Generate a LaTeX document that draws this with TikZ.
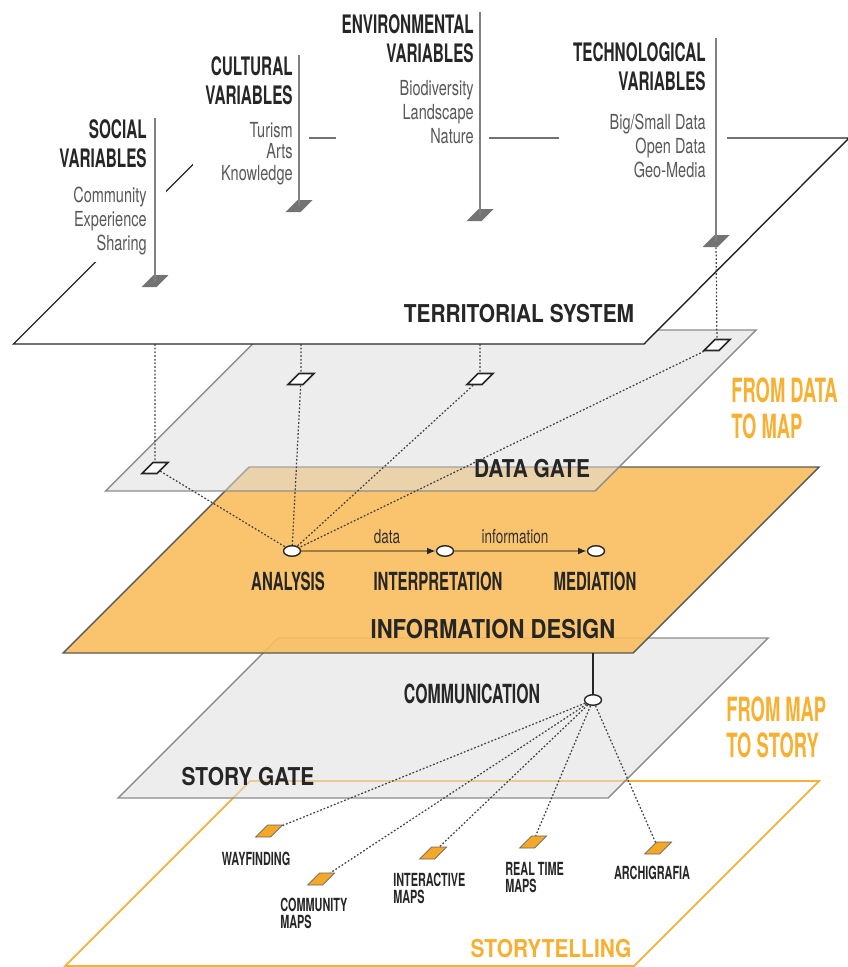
\documentclass[tikz,border=0pt]{standalone}
\usepackage{fontspec}
\setmainfont{TeX Gyre Heros}
\newfontfamily\narrowfont{TeX Gyre Heros}[FakeStretch=0.6]
\newfontfamily\tallfont{TeX Gyre Heros}[FakeStretch=0.55]
\newfontfamily\itemfont{TeX Gyre Heros}[FakeStretch=0.7]
\newfontfamily\planefont{TeX Gyre Heros}[FakeStretch=0.85]
\usetikzlibrary{shapes.geometric,arrows.meta}

\definecolor{infoorange}{RGB}{250,190,95}
\definecolor{lineorange}{RGB}{247,176,60}
\definecolor{textorange}{RGB}{248,176,50}
\definecolor{markorange}{RGB}{245,168,40}
\definecolor{gatefill}{RGB}{222,222,222}
\definecolor{gateline}{RGB}{140,140,140}
\definecolor{polegray}{RGB}{128,128,128}
\definecolor{arrowbrown}{RGB}{160,125,70}

\begin{document}
\begin{tikzpicture}[
    x=0.02cm, y=-0.02cm,
    plane/.style={line width=0.8pt, line join=miter},
    territory/.style={plane, draw=black!85, fill=white},
    gate/.style={plane, draw=gateline, fill=gatefill, fill opacity=0.55},
    infoplane/.style={plane, draw=black!65, fill=infoorange, fill opacity=0.9},
    storyplane/.style={plane, draw=lineorange, line width=1pt},
    mask/.style={fill=white},
    pole/.style={draw=polegray, line width=0.9pt},
    base/.style={rectangle, xslant=1, minimum width=0.3cm, minimum height=0.24cm, inner sep=0pt},
    footing/.style={base, fill=black!55},
    gatemark/.style={base, draw=black!85, line width=0.9pt, fill=white, minimum width=0.3cm, minimum height=0.22cm},
    mapmark/.style={base, draw=black!60, line width=0.4pt, fill=markorange},
    hub/.style={ellipse, draw=black!85, line width=0.8pt, fill=white, minimum width=0.34cm, minimum height=0.21cm, inner sep=0pt},
    link/.style={draw=black!75, line width=0.7pt, dash pattern=on 1pt off 1.1pt},
    flow/.style={draw=arrowbrown, line width=1.1pt, -{Latex[length=5pt,width=4pt,color=black!85]}},
    vartitle/.style={font=\narrowfont\bfseries\fontsize{14.5}{16.5}\selectfont, text=black!85, align=right, inner sep=0pt},
    varitem/.style={font=\itemfont\fontsize{11.8}{13.6}\selectfont, text=black!65, align=right, inner sep=0pt},
    planelabel/.style={font=\planefont\bfseries\fontsize{14}{16}\selectfont, text=black!85, inner sep=0pt},
    steplabel/.style={font=\narrowfont\bfseries\fontsize{14.2}{16}\selectfont, text=black!85, inner sep=0pt},
    flowlabel/.style={font=\itemfont\fontsize{11}{12}\selectfont, text=black!80, inner sep=0pt},
    sidelabel/.style={font=\tallfont\bfseries\fontsize{19}{20.4}\selectfont, text=textorange, align=left, inner sep=0pt},
    maplabel/.style={font=\narrowfont\bfseries\fontsize{10.3}{9.2}\selectfont, text=black!85, align=left, inner sep=0pt}
]
\useasboundingbox (0,0) rectangle (848,967);

% Layers, from the bottom up
\draw[storyplane] (65,966) -- (634,966) -- (819,781) -- (250,781) -- cycle;
\draw[gate] (118,798) -- (608,798) -- (768,638) -- (278,638) -- cycle;
\draw[infoplane] (63,653) -- (633,653) -- (819,467) -- (249,467) -- cycle;
\draw[gate] (105.5,491) -- (595,491) -- (756,330) -- (266.5,330) -- cycle;
\draw[territory] (13.5,344) -- (644,344) -- (849,138) -- (219.5,138) -- cycle;

% White boxes behind the variable groups
\fill[mask] (55,108) rectangle (166,262);
\fill[mask] (193,46) rectangle (309,192);
\fill[mask] (336,4) rectangle (489,150);
\fill[mask] (559,30) rectangle (727,186);

% Variable groups (anchored on the baseline of their last line)
\node[vartitle, anchor=base east] (social) at (147,167) {SOCIAL\\VARIABLES};
\node[varitem, anchor=base east] (socialitems) at (147,250) {Community\\Experience\\Sharing};
\node[vartitle, anchor=base east] (cultural) at (293,104) {CULTURAL\\VARIABLES};
\node[varitem, anchor=base east, font=\itemfont\fontsize{11.8}{12.2}\selectfont] (culturalitems) at (293,180) {Turism\\Arts\\Knowledge};
\node[vartitle, anchor=base east] (environ) at (474,62) {ENVIRONMENTAL\\VARIABLES};
\node[varitem, anchor=base east] (environitems) at (474,143) {Biodiversity\\Landscape\\Nature};
\node[vartitle, anchor=base east] (techno) at (706,90) {TECHNOLOGICAL\\VARIABLES};
\node[varitem, anchor=base east] (technoitems) at (706,177) {Big/Small Data\\Open Data\\Geo-Media};

% Poles with their footings
\coordinate (socialtop) at (155,118);
\coordinate (culturaltop) at (299,55);
\coordinate (environtop) at (480,12);
\coordinate (technotop) at (716,38);
\node[footing] (socialbase) at (155,281) {};
\node[footing] (culturalbase) at (299,206) {};
\node[footing] (environbase) at (480,215) {};
\node[footing] (technobase) at (716,241) {};
\draw[pole] (socialtop) -- (socialbase.center);
\draw[pole] (culturaltop) -- (culturalbase.center);
\draw[pole] (environtop) -- (environbase.center);
\draw[pole] (technotop) -- (technobase.center);

% Plane names
\node[planelabel, anchor=base] (territorial) at (519,322) {TERRITORIAL SYSTEM};
\node[planelabel, anchor=base] (datagate) at (532,477) {DATA GATE};
\node[planelabel, anchor=base, font=\planefont\bfseries\fontsize{14.8}{16}\selectfont] (infodesign) at (493,638) {INFORMATION DESIGN};
\node[planelabel, anchor=base] (storygate) at (248,785) {STORY GATE};
\node[planelabel, anchor=base, text=textorange] (storytelling) at (551,957) {STORYTELLING};
\node[sidelabel, anchor=base west] (datatomap) at (731,438) {FROM DATA\\TO MAP};
\node[sidelabel, anchor=base west] (maptostory) at (726,757) {FROM MAP\\TO STORY};

% Data gate marks
\coordinate (drop1) at (155,344);
\coordinate (drop2) at (301,344);
\coordinate (drop3) at (480,344);
\node[gatemark] (gm1) at (155,468) {};
\node[gatemark] (gm2) at (301,379) {};
\node[gatemark] (gm3) at (480,379) {};
\node[gatemark] (gm4) at (717,345) {};

% Information design steps
\node[hub] (analysis) at (292,551) {};
\node[hub] (interp) at (445,551) {};
\node[hub] (mediation) at (596,551) {};
\node[steplabel, anchor=base] (analysislbl) at (288,590) {ANALYSIS};
\node[steplabel, anchor=base] (interplbl) at (438,590) {INTERPRETATION};
\node[steplabel, anchor=base] (mediationlbl) at (595,590) {MEDIATION};
\node[flowlabel, anchor=base] (datalbl) at (387,543) {data};
\node[flowlabel, anchor=base] (infolbl) at (515,543) {information};

\draw[link] (drop1) -- (gm1);
\draw[link] (drop2) -- (gm2);
\draw[link] (drop3) -- (gm3);
\draw[link] (technobase) -- (gm4);
\draw[link] (gm1) -- (analysis);
\draw[link] (gm2) -- (analysis);
\draw[link] (gm3) -- (analysis);
\draw[link] (gm4) -- (analysis);
\draw[flow] (analysis) -- (interp);
\draw[flow] (interp) -- (mediation);

% Communication towards the story outputs
\coordinate (commtop) at (593,653);
\node[hub] (comm) at (593,700) {};
\node[steplabel, anchor=base, font=\narrowfont\bfseries\fontsize{15}{16}\selectfont] (commlbl) at (472,703) {COMMUNICATION};
\draw[draw=black!85, line width=0.7pt] (commtop) -- (comm);

\node[mapmark] (wayfinding) at (269,831) {};
\node[mapmark] (community) at (321,879) {};
\node[mapmark] (interactive) at (433,853) {};
\node[mapmark] (realtime) at (533,842) {};
\node[mapmark] (archigrafia) at (658,848) {};
\draw[link] (comm) -- (wayfinding);
\draw[link] (comm) -- (community);
\draw[link] (comm) -- (interactive);
\draw[link] (comm) -- (realtime);
\draw[link] (comm) -- (archigrafia);

\node[maplabel, anchor=base] (wayfindinglbl) at (256,865) {WAYFINDING};
\node[maplabel, anchor=base west] (communitylbl) at (280,928) {COMMUNITY\\MAPS};
\node[maplabel, anchor=base west] (interactivelbl) at (393,903) {INTERACTIVE\\MAPS};
\node[maplabel, anchor=base west] (realtimelbl) at (505,892) {REAL TIME\\MAPS};
\node[maplabel, anchor=base] (archigrafialbl) at (652,879) {ARCHIGRAFIA};

\end{tikzpicture}
\end{document}
